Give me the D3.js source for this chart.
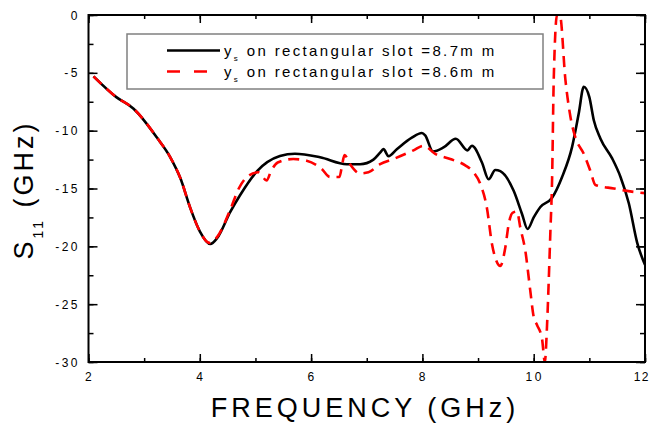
<!DOCTYPE html>
<html><head><meta charset="utf-8">
<script src="https://cdn.jsdelivr.net/npm/d3@7"></script>
<style>body{margin:0;background:#fff}svg{display:block;font-family:Arial,"Liberation Sans",sans-serif}</style>
</head><body><svg id="c" width="651" height="426"></svg>
<script>
const xTicks = [2, 4, 6, 8, 10, 12];
const yTicks = [0, -5, -10, -15, -20, -25, -30];
const legendLabels = ["8.7mm", "8.6mm"];
const freqA = [2.09, 2.5, 2.81, 3.23, 3.47, 3.65, 3.83, 4.0, 4.19, 4.31, 4.55, 4.72, 5.03, 5.44, 5.71, 6.16, 6.64, 6.88, 7.12, 7.24, 7.30, 7.39, 7.54, 7.81, 7.99, 8.05, 8.19, 8.38, 8.6, 8.81, 8.89, 9.07, 9.19, 9.31, 9.40, 9.64, 9.79, 9.89, 10.0, 10.12, 10.33, 10.51, 10.69, 10.81, 10.9, 11.0, 11.08, 11.2, 11.41, 11.56, 11.71, 11.86, 12.0];
const s11A = [-5.3, -7.1, -8.1, -10.6, -12.3, -14.1, -16.7, -18.7, -19.8, -19.3, -17.0, -15.6, -13.5, -12.2, -12.0, -12.3, -12.9, -12.9, -12.5, -11.9, -11.6, -12.2, -11.6, -10.6, -10.2, -10.4, -11.8, -11.45, -10.7, -11.7, -11.3, -12.75, -14.2, -13.4, -13.5, -15.2, -17.2, -18.5, -17.5, -16.6, -15.8, -14.0, -11.4, -8.5, -6.2, -7.1, -9.1, -10.7, -12.4, -14.0, -16.3, -19.7, -21.6];
const freqB = [2.09, 2.5, 2.81, 3.23, 3.47, 3.65, 3.83, 4.0, 4.17, 4.31, 4.55, 4.7, 4.85, 5.05, 5.2, 5.28, 5.4, 5.68, 5.92, 6.19, 6.34, 6.51, 6.56, 6.6, 6.7, 6.88, 7.03, 7.24, 7.48, 7.84, 8.02, 8.23, 8.5, 8.77, 8.92, 9.04, 9.16, 9.25, 9.31, 9.40, 9.49, 9.55, 9.62, 9.70, 9.76, 9.85, 9.94, 10.0, 10.06, 10.15, 10.2, 10.24, 10.27, 10.3, 10.33, 10.36, 10.42, 10.47, 10.57, 10.66, 10.75, 10.9, 11.02, 11.11, 11.44, 11.8, 12.0];
const s11B = [-5.3, -7.1, -8.1, -10.6, -12.3, -14.1, -16.7, -18.7, -19.7, -19.2, -16.8, -15.0, -14.0, -13.6, -14.3, -13.5, -12.75, -12.45, -12.6, -13.3, -14.0, -14.0, -12.9, -12.1, -12.9, -13.7, -13.6, -12.9, -12.45, -11.7, -11.3, -12.0, -12.45, -13.0, -13.6, -14.6, -16.7, -19.8, -21.0, -21.7, -20.1, -18.1, -17.1, -17.0, -18.4, -20.4, -23.9, -26.1, -26.8, -28.0, -30.0, -26.8, -23.0, -18.7, -14.3, -5.6, 0, 0, -5.6, -8.8, -10.6, -12.0, -13.5, -14.7, -15.0, -15.3, -15.4];

const svg = d3.select("#c");
const L = 88.5, R = 645, T = 15, B = 362;
const x = d3.scaleLinear().domain([2, 12]).range([L, R]);
const y = d3.scaleLinear().domain([-30, 0]).range([B, T]);

svg.append("clipPath").attr("id","clip").append("rect").attr("x",L).attr("y",T).attr("width",R-L).attr("height",B-T);

const line = d3.line().x(d=>x(d[0])).y(d=>y(d[1])).curve(d3.curveMonotoneX);
const dA = freqA.map((f,i)=>[f,s11A[i]]);
const dB = freqB.map((f,i)=>[f,s11B[i]]);
const g = svg.append("g").attr("clip-path","url(#clip)");
g.append("path").attr("d",line(dA)).attr("fill","none").attr("stroke","#000").attr("stroke-width",2.6);
g.append("path").attr("d",line(dB)).attr("fill","none").attr("stroke","#ff0000").attr("stroke-width",2.6).attr("stroke-dasharray","11,7");

// axes with inward ticks
const xMinor = d3.range(2, 12.01, 1);
const yMinor = d3.range(-30, 0.01, 2.5);
const ax = svg.append("g");
function axisG(axis, tx, ty){ const gg = ax.append("g").attr("transform",`translate(${tx},${ty})`).call(axis); gg.select(".domain").remove(); gg.selectAll("text").remove(); gg.selectAll("line").attr("stroke","#000").attr("stroke-width",1.5); return gg; }
axisG(d3.axisBottom(x).tickValues(xMinor).tickSize(-4).tickFormat(""),0,B);
axisG(d3.axisBottom(x).tickValues(xTicks).tickSize(-8).tickFormat(""),0,B);
axisG(d3.axisTop(x).tickValues(xMinor).tickSize(-4).tickFormat(""),0,T);
axisG(d3.axisTop(x).tickValues(xTicks).tickSize(-8).tickFormat(""),0,T);
axisG(d3.axisLeft(y).tickValues(yMinor).tickSize(-5).tickFormat(""),L,0);
axisG(d3.axisLeft(y).tickValues(yTicks).tickSize(-9).tickFormat(""),L,0);
axisG(d3.axisRight(y).tickValues(yMinor).tickSize(-5).tickFormat(""),R,0);
axisG(d3.axisRight(y).tickValues(yTicks).tickSize(-9).tickFormat(""),R,0);
ax.append("rect").attr("x",L).attr("y",T).attr("width",R-L).attr("height",B-T).attr("fill","none").attr("stroke","#000").attr("stroke-width",2);

// tick labels
svg.append("g").selectAll("text").data(xTicks).join("text")
  .attr("x",d=>d===12 ? 650 : x(d)+1)
  .attr("y",381).attr("text-anchor",d=>d===12 ? "end" : "middle")
  .attr("font-size",12).attr("letter-spacing",d=>d===12 ? 1.5 : 2.5).text(d=>d);
svg.append("g").selectAll("text").data(yTicks).join("text")
  .attr("x",80).attr("y",d=>y(d)+4.5).attr("text-anchor","end")
  .attr("font-size",12).attr("letter-spacing",2.5).text(d=>d);

// axis titles
svg.append("text").attr("x",365).attr("y",417).attr("text-anchor","middle")
  .attr("font-size",27).attr("letter-spacing",4).text("FREQUENCY (GHz)");
const yt = svg.append("text").attr("transform","translate(33,190) rotate(-90)").attr("text-anchor","middle").attr("font-size",27).attr("letter-spacing",3);
yt.append("tspan").text("S");
yt.append("tspan").attr("font-size",14).attr("dy",10).text("11");
yt.append("tspan").attr("dy",-10).text(" (GHz)");

// legend
const lg = svg.append("g");
lg.append("rect").attr("x",127).attr("y",34).attr("width",416).attr("height",55).attr("fill","#fff").attr("stroke","#808080").attr("stroke-width",1.5);
const rows = [{c:"#000",dash:null,yy:50.5,x2:220},{c:"#ff0000",dash:"13,14",yy:71.5,x2:208}];
rows.forEach((r,i)=>{
  lg.append("line").attr("x1",167).attr("x2",r.x2).attr("y1",r.yy).attr("y2",r.yy).attr("stroke",r.c).attr("stroke-width",2.6).attr("stroke-dasharray",r.dash);
  const t = lg.append("text").attr("x",224).attr("y",r.yy+5).attr("font-size",15).attr("letter-spacing",2.35);
  t.append("tspan").text("y");
  t.append("tspan").attr("font-size",8).attr("dy",5).text("s");
  t.append("tspan").attr("dy",-5).text(" on rectangular slot =" + legendLabels[i].replace("mm","m m"));
});
</script></body></html>
